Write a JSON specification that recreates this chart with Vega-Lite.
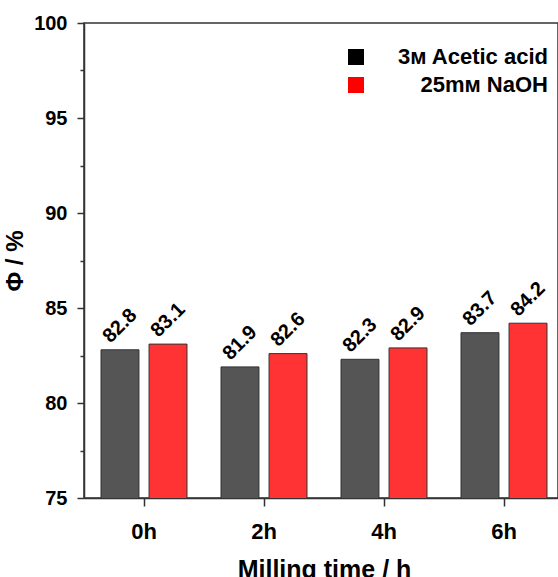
{
  "$schema": "https://vega.github.io/schema/vega-lite/v6.json",
  "autosize": "none",
  "padding": {"left": 84, "top": 23, "right": 0, "bottom": 79},
  "width": 474,
  "height": 475,
  "data": {
    "values": [
      {"time": "0h", "series": "3ᴍ Acetic acid", "phi": 82.8},
      {"time": "0h", "series": "25mᴍ NaOH", "phi": 83.1},
      {"time": "2h", "series": "3ᴍ Acetic acid", "phi": 81.9},
      {"time": "2h", "series": "25mᴍ NaOH", "phi": 82.6},
      {"time": "4h", "series": "3ᴍ Acetic acid", "phi": 82.3},
      {"time": "4h", "series": "25mᴍ NaOH", "phi": 82.9},
      {"time": "6h", "series": "3ᴍ Acetic acid", "phi": 83.7},
      {"time": "6h", "series": "25mᴍ NaOH", "phi": 84.2}
    ]
  },
  "config": {
    "font": "Liberation Sans",
    "view": {"stroke": "#333333", "strokeWidth": 1.5},
    "axis": {
      "domainColor": "#333333",
      "domainWidth": 1.5,
      "tickColor": "#333333",
      "tickWidth": 1.5,
      "labelColor": "#000000",
      "labelFontWeight": "bold",
      "titleFontWeight": "bold",
      "titleColor": "#000000",
      "grid": false
    }
  },
  "resolve": {"scale": {"color": "independent"}},
  "encoding": {
    "x": {
      "field": "time",
      "type": "nominal",
      "sort": ["0h", "2h", "4h", "6h"],
      "scale": {"paddingInner": 0, "paddingOuter": 0, "range": [0, 480]},
      "axis": {
        "title": "Milling time / h",
        "labelAngle": 0,
        "labelFontSize": 22,
        "labelPadding": 15,
        "tickSize": 8,
        "titleFontSize": 25,
        "titlePadding": 15
      }
    },
    "xOffset": {
      "field": "series",
      "type": "nominal",
      "sort": ["3ᴍ Acetic acid", "25mᴍ NaOH"],
      "scale": {"paddingInner": 0.21, "paddingOuter": 0.354}
    },
    "y": {
      "field": "phi",
      "type": "quantitative",
      "scale": {"domain": [75, 100], "nice": false, "zero": false},
      "axis": {
        "title": "Φ / %",
        "values": [75, 77.5, 80, 82.5, 85, 87.5, 90, 92.5, 95, 97.5, 100],
        "labelExpr": "datum.value % 5 === 0 ? datum.label : ''",
        "tickSize": {"condition": {"test": "datum.value % 5 === 0", "value": 7}, "value": 4},
        "labelFontSize": 20,
        "labelPadding": 10,
        "titleFontSize": 24,
        "titlePadding": 6
      }
    }
  },
  "layer": [
    {
      "mark": {"type": "bar", "stroke": "#333333", "strokeWidth": 1, "clip": true},
      "encoding": {
        "color": {
          "field": "series",
          "type": "nominal",
          "scale": {"domain": ["3ᴍ Acetic acid", "25mᴍ NaOH"], "range": ["#555555", "#ff3333"]},
          "legend": null
        }
      }
    },
    {
      "mark": {"type": "square", "opacity": 0, "size": 1},
      "encoding": {
        "color": {
          "field": "series",
          "type": "nominal",
          "scale": {"domain": ["3ᴍ Acetic acid", "25mᴍ NaOH"], "range": ["#000000", "#ff0000"]},
          "legend": {
            "orient": "none",
            "legendX": 261,
            "legendY": 23,
            "title": null,
            "padding": 0,
            "symbolType": "square",
            "symbolSize": 256,
            "symbolOpacity": 1,
            "symbolStrokeWidth": 0,
            "labelFontSize": 22,
            "labelFontWeight": "bold",
            "labelColor": "#000000",
            "labelAlign": "right",
            "labelOffset": 181,
            "labelLimit": 300,
            "rowPadding": 6
          }
        }
      }
    },
    {
      "mark": {
        "type": "text",
        "angle": -45,
        "align": "center",
        "baseline": "middle",
        "yOffset": -24,
        "fontSize": 20,
        "fontWeight": "bold",
        "color": "#000000"
      },
      "encoding": {
        "text": {"field": "phi", "type": "quantitative", "format": ".1f"}
      }
    }
  ]
}
